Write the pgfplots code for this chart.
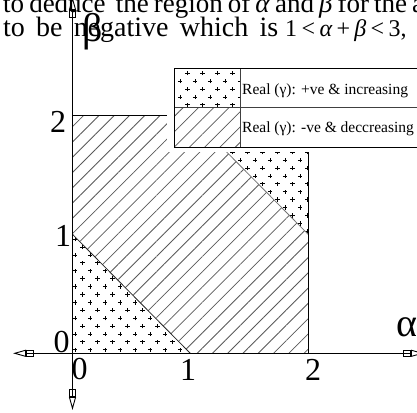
\documentclass[border=0pt]{standalone}
\usepackage{pgfplots}
\pgfplotsset{compat=1.18}
\usepackage{fontspec}
\setmainfont{Liberation Serif}
\usetikzlibrary{patterns.meta, arrows.meta}

% staggered grid of small plus signs
\tikzdeclarepattern{
  name=PlusGrid,
  type=uncolored,
  bounding box={(-3bp,-3bp) and (12bp,12.8bp)},
  tile size={(15bp,15.8bp)},
  code={
    \draw[line width=0.9bp] (-2.2bp,0bp) -- (2.2bp,0bp) (0bp,-2.2bp) -- (0bp,2.2bp)
      (5.3bp,7.9bp) -- (9.7bp,7.9bp) (7.5bp,5.7bp) -- (7.5bp,10.1bp);
  }
}

\tikzset{
  plusfill/.style={pattern=PlusGrid, pattern color=black},
  hatchfill/.style={pattern={Lines[angle=45,distance=10.8bp,line width=0.8bp]}, pattern color=black!65},
  axarrow/.style={line width=0.9bp,
    {Triangle[open,length=13bp,width=7bp]Square[open,length=8bp,width=7bp]}-{Square[open,length=8bp,width=7bp]Triangle[open,length=13bp,width=7bp]}},
}

\begin{document}
\begin{tikzpicture}
\begin{scope}[x=1bp,y=-1bp]
  \useasboundingbox (0,0) rectangle (417,413);
  \node[anchor=base west, inner sep=0, font=\fontsize{27bp}{30bp}\selectfont] at (3,12.7)
    {\makebox[421bp][s]{to deduce\ \ the region of \textit{α} and \textit{β} for the a}};
  \node[anchor=base west, inner sep=0, font=\fontsize{28bp}{30bp}\selectfont] at (3,36.7)
    {\makebox[275bp][s]{to be negative which is}};
  \node[anchor=base west, inner sep=0, font=\fontsize{24bp}{26bp}\selectfont] at (285,36.7)
    {1\hspace{4.5bp}<\hspace{4.5bp}\textit{α}\hspace{4bp}+\hspace{4bp}\textit{β}\hspace{4.5bp}<\hspace{4.5bp}3,};
\end{scope}

\begin{axis}[
  at={(0,0)}, anchor=north west,
  scale only axis, width=417bp, height=413bp,
  xmin=-0.6154, xmax=2.9244, ymin=-0.5017, ymax=2.9689,
  axis lines=none, xtick=\empty, ytick=\empty,
  clip=false,
]
  % alpha + beta < 1
  \addplot[draw=none, plusfill] coordinates {(0,0) (1,0) (0,1)} -- cycle;
  % 1 < alpha + beta < 3 inside the square
  \addplot[draw=none, hatchfill] coordinates {(1,0) (2,0) (2,1) (1,2) (0,2) (0,1)} -- cycle;
  % alpha + beta > 3
  \addplot[draw=none, plusfill] coordinates {(2,1) (2,2) (1,2)} -- cycle;
  % boundaries
  \addplot[black!85, line width=0.8bp] coordinates {(0,1) (1,0)};
  \addplot[black!55, line width=0.8bp] coordinates {(1,2) (2,1)};
  \addplot[black, line width=1.2bp] coordinates {(0,2) (2,2) (2,0)};
\end{axis}

\begin{scope}[x=1bp,y=-1bp]
  % axes
  \draw[axarrow] (13,353.3) -- (424,353.3);
  \draw[axarrow] (72.5,410) -- (72.5,-3);
  % tick labels
  \begin{scope}[every node/.style={inner sep=0, font=\fontsize{32bp}{34bp}\selectfont}]
    \node at (61.5,342) {0};
    \node at (63,236) {1};
    \node at (58,121.5) {2};
    \node at (79.5,369) {0};
    \node at (188,370) {1};
    \node at (313,370) {2};
  \end{scope}
  \node[anchor=base west, inner sep=0, font=\fontsize{40bp}{42bp}\selectfont] at (396,336) {α};
  \node[anchor=base west, inner sep=0, font=\fontsize{40bp}{42bp}\selectfont] at (82,41) {β};
  % key
  \fill[white] (167,60) rectangle (430,152);
  \fill[plusfill] (174.3,68.3) rectangle (240.7,107.7);
  \fill[hatchfill] (174.3,107.7) rectangle (240.7,147.7);
  \draw[black!75, line width=0.9bp] (174.3,107.7) -- (430,107.7) (240.7,68.3) -- (240.7,147.7);
  \draw[black, line width=1bp] (174.3,68.3) rectangle (430,147.7);
  \begin{scope}[every node/.style={anchor=base west, inner sep=0, font=\fontsize{15.5bp}{17bp}\selectfont}]
    \node at (242,94.3) {Real (γ): +ve \& increasing};
    \node at (242,132) {Real (γ): -ve \& deccreasing};
  \end{scope}
  \pgfresetboundingbox
  \path[use as bounding box] (0,0) rectangle (417,413);
\end{scope}
\end{tikzpicture}
\end{document}
